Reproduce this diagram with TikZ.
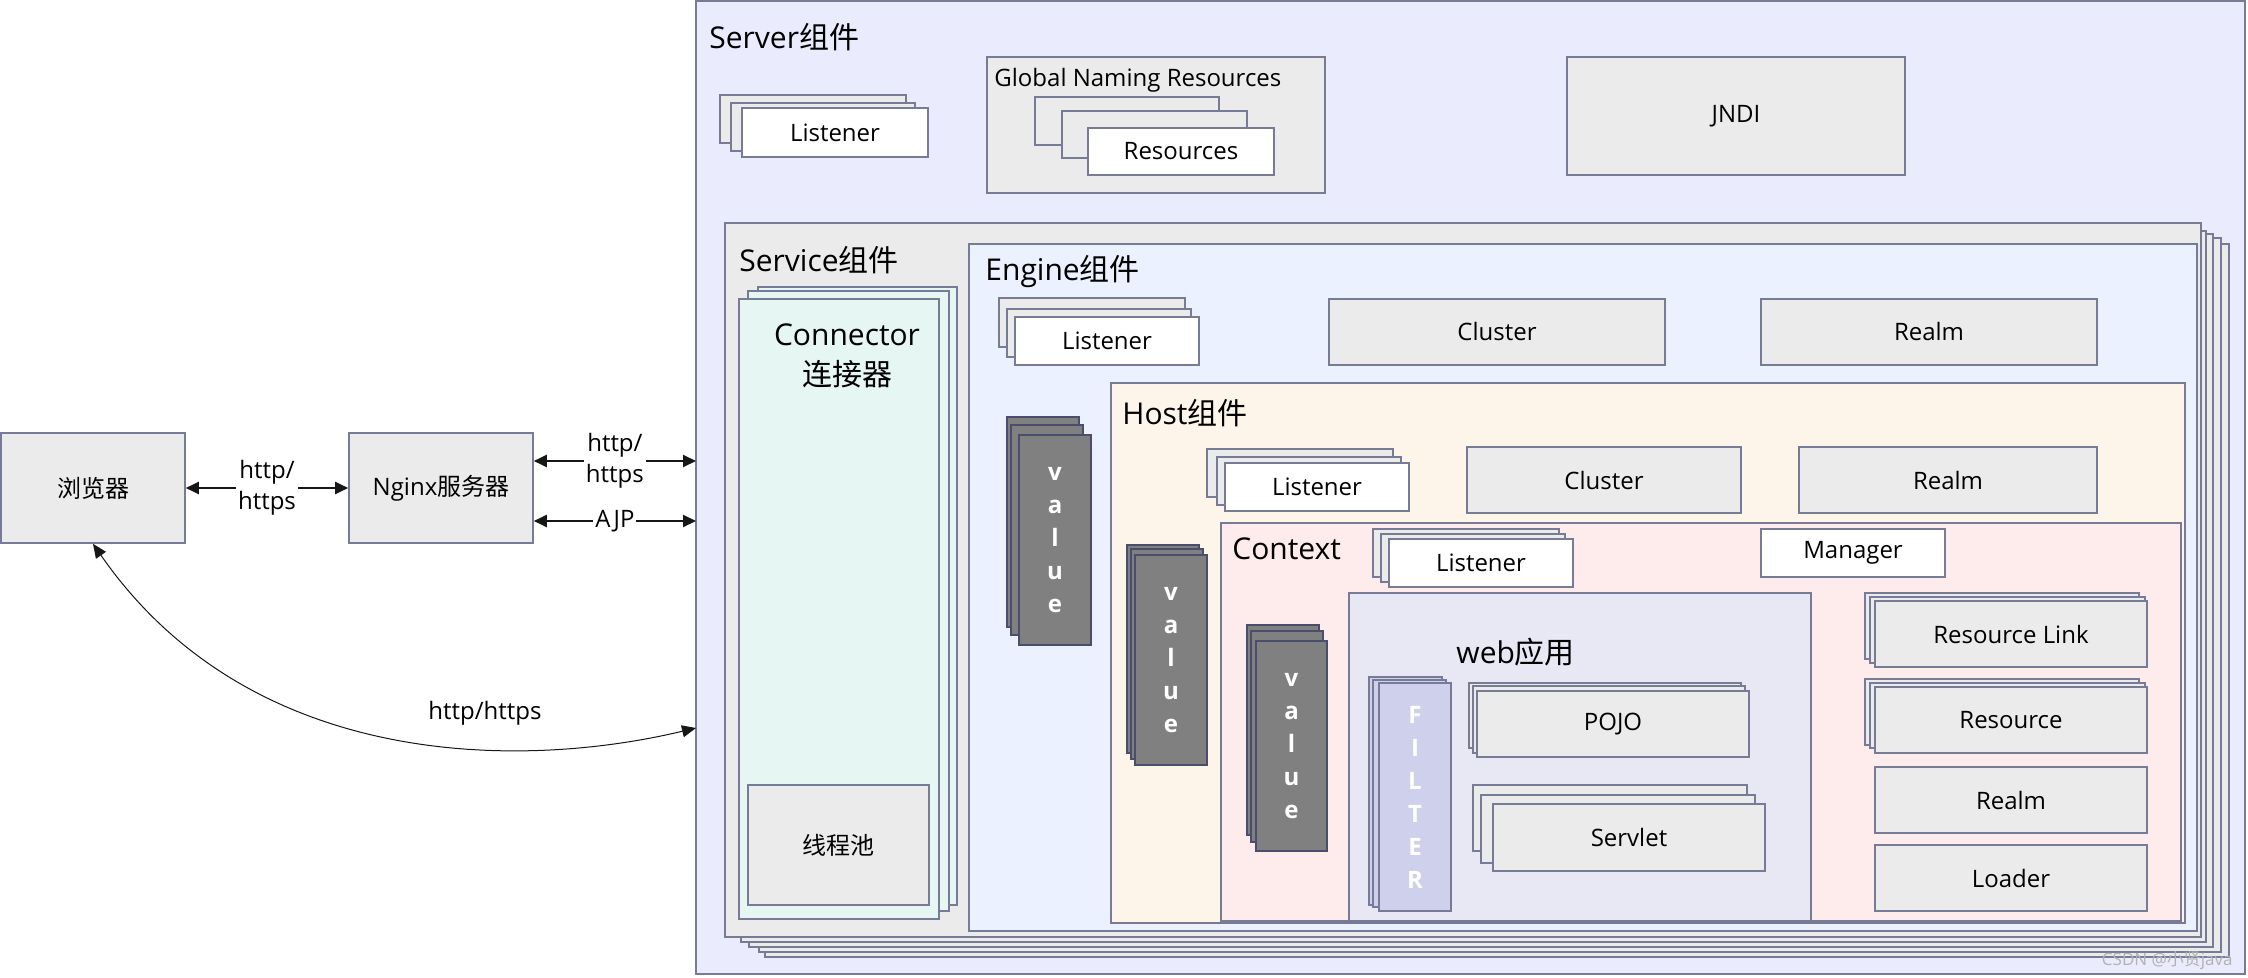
\documentclass[tikz,border=0pt]{standalone}
\usepackage{fontspec}
\setmainfont{Open Sans}
\newfontfamily\cjk{Noto Sans CJK SC}
\usepackage{xcolor}
\usetikzlibrary{arrows.meta,fit,positioning}
\definecolor{tomcatInk}{HTML}{161616}
\definecolor{tomcatLine}{HTML}{777B96}
\definecolor{tomcatDark}{HTML}{4A4E6C}
\definecolor{tomcatGray}{HTML}{EBEBEB}
\definecolor{tomcatServer}{HTML}{EBEBFE}
\definecolor{tomcatEngine}{HTML}{EBF1FE}
\definecolor{tomcatMint}{HTML}{E6F6F3}
\definecolor{tomcatHost}{HTML}{FEF5EA}
\definecolor{tomcatContext}{HTML}{FEEBEB}
\definecolor{tomcatWeb}{HTML}{E8E8F5}
\definecolor{tomcatFilter}{HTML}{CFD0EB}
\definecolor{tomcatValve}{HTML}{808080}

\begin{document}
\begin{tikzpicture}[
  x=0.5pt, y=-0.5pt,
  font=\fontsize{12}{15.5}\selectfont,
  frame/.style={draw=tomcatLine, line width=0.8pt, inner sep=0pt},
  part/.style={frame, fill=tomcatGray},
  plain/.style={frame, fill=white},
  valve/.style={draw=tomcatDark, line width=0.8pt, inner sep=0pt, fill=tomcatValve},
  filterbox/.style={valve, draw=tomcatLine, fill=tomcatFilter},
  letters/.style={text=white, align=center, inner sep=0pt, font=\bfseries\fontsize{12}{16.5}\selectfont},
  title/.style={inner sep=0pt, anchor=west, font=\fontsize{15}{20}\selectfont},
  link/.style={{Triangle[length=6.5pt,width=6pt]}-{Triangle[length=6.5pt,width=6pt]}, line width=1pt, draw=tomcatInk},
  thinlink/.style={{Triangle[length=7pt,width=6pt]}-{Triangle[length=7pt,width=6pt]}, line width=0.5pt, draw=tomcatInk},
  lab/.style={fill=white, inner sep=1pt, align=center}
]
  \useasboundingbox (0,0) rectangle (2248,978);

  % server
  \node[frame, fill=tomcatServer, fit={(696,1) (2245,974)}] (server) {};
  \node[title] (servertitle) at (709,37) {Server{\cjk 组件}};
  \node[part, fit={(720,95) (906,143)}] (slis3) {};
  \node[part, fit={(731,103) (915,151)}] (slis2) {};
  \node[plain, fit={(742,108) (928,157)}, label=center:Listener] (slis) {};
  \node[part, fit={(987,57) (1325,193)}] (gnr) {};
  \node[inner sep=0pt, anchor=west] (gnrtitle) at (994,80) {Global Naming Resources};
  \node[part, fit={(1035,97) (1219,145)}] (res3) {};
  \node[part, fit={(1062,111) (1247,158)}] (res2) {};
  \node[plain, fit={(1088,128) (1274,175)}, label=center:Resources] (res) {};
  \node[part, fit={(1567,57) (1905,175)}, label=center:JNDI] (jndi) {};

  % service
  \foreach \a/\b/\c/\d [count=\i] in {765/244/2229/957, 759/238/2221/952, 749/234/2213/947, 741/231/2206/942}
    \node[part, fit={(\a,\b) (\c,\d)}] (service\i) {};
  \node[part, fit={(725,223) (2201,937)}] (service) {};
  \node[title] (servicetitle) at (739,260) {Service{\cjk 组件}};
  \node[frame, fill=tomcatMint, fit={(758,287) (957,905)}] (conn3) {};
  \node[frame, fill=tomcatMint, fit={(748,291) (949,911)}] (conn2) {};
  \node[frame, fill=tomcatMint, fit={(739,299) (939,919)}] (conn) {};
  \node[title, anchor=center, align=center] (conntitle) at (847,356) {Connector\\{\cjk 连接器}};
  \node[part, fit={(748,785) (929,905)}, label=center:{\cjk 线程池}] (pool) {};

  % engine
  \node[frame, fill=tomcatEngine, fit={(969,244) (2197,931)}] (engine) {};
  \node[title] (enginetitle) at (985,272) {Engine{\cjk 组件}};
  \node[part, fit={(999,298) (1185,347)}] (elis3) {};
  \node[part, fit={(1007,309) (1191,357)}] (elis2) {};
  \node[plain, fit={(1015,317) (1199,365)}, label=center:Listener] (elis) {};
  \node[part, fit={(1329,299) (1665,365)}, label=center:Cluster] (ecluster) {};
  \node[part, fit={(1761,299) (2097,365)}, label=center:Realm] (erealm) {};
  \node[valve, fit={(1007,417) (1079,627)}] (evalve3) {};
  \node[valve, fit={(1011,425) (1083,635)}] (evalve2) {};
  \node[valve, fit={(1019,435) (1091,645)}, label={[letters]center:{v\\a\\l\\u\\e}}] (evalve) {};

  % host
  \node[frame, fill=tomcatHost, fit={(1111,383) (2185,923)}] (host) {};
  \node[title] (hosttitle) at (1122,413) {Host{\cjk 组件}};
  \node[part, fit={(1207,449) (1393,497)}] (hlis3) {};
  \node[part, fit={(1217,457) (1401,505)}] (hlis2) {};
  \node[plain, fit={(1225,463) (1409,511)}, label=center:Listener] (hlis) {};
  \node[part, fit={(1467,447) (1741,513)}, label=center:Cluster] (hcluster) {};
  \node[part, fit={(1799,447) (2097,513)}, label=center:Realm] (hrealm) {};
  \node[valve, fit={(1127,545) (1199,753)}] (hvalve3) {};
  \node[valve, fit={(1131,549) (1203,759)}] (hvalve2) {};
  \node[valve, fit={(1135,555) (1207,765)}, label={[letters]center:{v\\a\\l\\u\\e}}] (hvalve) {};

  % context
  \node[frame, fill=tomcatContext, fit={(1221,523) (2181,921)}] (context) {};
  \node[title] (contexttitle) at (1232,549) {Context};
  \node[part, fit={(1373,529) (1559,577)}] (clis3) {};
  \node[part, fit={(1381,534) (1565,582)}] (clis2) {};
  \node[plain, fit={(1389,539) (1573,587)}, label=center:Listener] (clis) {};
  \node[plain, fit={(1761,529) (1945,577)}, label=center:Manager] (manager) {};
  \node[valve, fit={(1247,625) (1319,835)}] (cvalve3) {};
  \node[valve, fit={(1251,631) (1323,842)}] (cvalve2) {};
  \node[valve, fit={(1256,641) (1327,851)}, label={[letters]center:{v\\a\\l\\u\\e}}] (cvalve) {};
  \node[part, fit={(1865,593) (2139,659)}] (rlink3) {};
  \node[part, fit={(1870,597) (2145,663)}] (rlink2) {};
  \node[part, fit={(1875,601) (2147,667)}, label=center:Resource Link] (rlink) {};
  \node[part, fit={(1865,679) (2139,745)}] (resource3) {};
  \node[part, fit={(1870,683) (2145,748)}] (resource2) {};
  \node[part, fit={(1875,687) (2147,753)}, label=center:Resource] (resource) {};
  \node[part, fit={(1875,767) (2147,833)}, label=center:Realm] (crealm) {};
  \node[part, fit={(1875,845) (2147,911)}, label=center:Loader] (loader) {};

  % web app
  \node[frame, fill=tomcatWeb, fit={(1349,593) (1811,921)}] (webapp) {};
  \node[title] (webtitle) at (1456,652) {web{\cjk 应用}};
  \node[filterbox, fit={(1369,677) (1442,905)}] (filter3) {};
  \node[filterbox, fit={(1373,680) (1446,907)}] (filter2) {};
  \node[filterbox, fit={(1379,683) (1451,911)}, label={[letters]center:{F\\I\\L\\T\\E\\R}}] (filter) {};
  \node[part, fit={(1469,683) (1741,748)}] (pojo3) {};
  \node[part, fit={(1473,686) (1745,753)}] (pojo2) {};
  \node[part, fit={(1477,691) (1749,757)}, label=center:POJO] (pojo) {};
  \node[part, fit={(1473,785) (1747,851)}] (servlet3) {};
  \node[part, fit={(1481,795) (1755,863)}] (servlet2) {};
  \node[part, fit={(1493,804) (1765,871)}, label=center:Servlet] (servlet) {};

  % outside
  \node[part, fit={(1,433) (185,543)}, label=center:{\cjk 浏览器}] (browser) {};
  \node[part, fit={(349,433) (533,543)}, label=center:{Nginx{\cjk 服务器}}] (nginx) {};
  \coordinate (httpin) at (696,461);
  \coordinate (ajpin) at (696,521);
  \coordinate (directin) at (696,728);

  \draw[link] (browser) -- node[lab] (lab1) {http/\\https} (nginx);
  \draw[link] (nginx.east |- httpin) -- node[lab] (lab2) {http/\\https} (httpin);
  \draw[link] (nginx.east |- ajpin) -- node[lab] (lab3) {AJP} (ajpin);
  \draw[thinlink] (browser.south) .. controls (250,770) and (520,770) .. (directin);
  \node[inner sep=0pt] (lab4) at (485,713) {http/https};

  \node[text=black!30, inner sep=0pt, anchor=east, font=\fontsize{8.5}{10}\selectfont] (mark) at (2233,961) {CSDN @{\cjk 小贤}java};
\end{tikzpicture}
\end{document}
